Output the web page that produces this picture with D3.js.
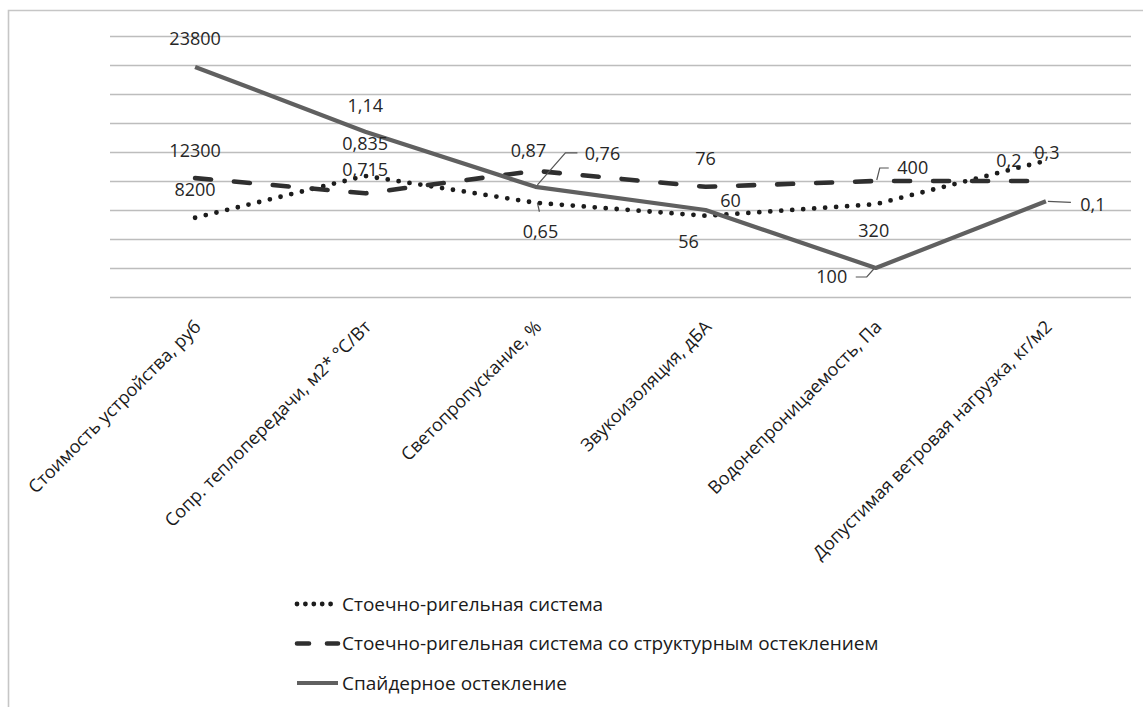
<!DOCTYPE html>
<html lang="ru">
<head>
<meta charset="utf-8">
<title>Сравнение систем остекления</title>
<script src="https://cdn.jsdelivr.net/npm/d3@7"></script>
<style>
  html, body { margin: 0; padding: 0; background: #fff; }
  svg { display: block; font-family: "Open Sans", "DejaVu Sans", sans-serif; }
</style>
</head>
<body>
<svg id="chart" width="1143" height="707"></svg>
<script>
// Criteria compared
const categories = [
  "Стоимость устройства, руб",
  "Сопр. теплопередачи, м2* °С/Вт",
  "Светопропускание, %",
  "Звукоизоляция, дБА",
  "Водонепроницаемость, Па",
  "Допустимая ветровая нагрузка, кг/м2"
];

const seriesNames = [
  "Стоечно-ригельная система",
  "Стоечно-ригельная система со структурным остеклением",
  "Спайдерное остекление"
];

// Measured values per criterion
const mullionTransom   = [8200, 0.835, 0.65, 56, 320, 0.3];
const structuralGlazed = [12300, 0.715, 0.87, 76, 400, 0.2];
const spiderGlazing    = [23800, 1.14, 0.76, 60, 100, 0.1];

// Each criterion is brought to a common score: score = offset + value * factor
const scoreFactor = [1 / 3000, 5, 5, 1 / 20, 1 / 100, 7];
const scoreOffset = [0, 0, 0, 0, 0, 2.6];

// Score axis ticks (gridlines only, no tick text)
const scoreTicks = [0, 1, 2, 3, 4, 5, 6, 7, 8, 9];

const seriesValues = [mullionTransom, structuralGlazed, spiderGlazing];

// ---- layout & styles ----
const svg = d3.select("#chart");
const plot = { left: 110, right: 1131, top: 36, bottom: 297 };

const x = d3.scaleBand().domain(categories).range([plot.left, plot.right]);
const y = d3.scaleLinear().domain([0, 9]).range([plot.bottom, plot.top]);
const cx = c => x(c) + x.bandwidth() / 2;

const styles = [
  { color: "#1c1c1c", width: 4.8, dash: "0 11",  cap: "round", legendDash: "0 8.4" },
  { color: "#2f2f2f", width: 4.6, dash: "16 23", cap: "round", legendDash: "12 18" },
  { color: "#606060", width: 4.2, dash: null,    cap: "butt",  legendDash: null }
];

// Data-label placement relative to the point (text centre), plus optional leader lines
const labelLayout = [
  [ {dx: 0, dy: -28}, {dx: 0, dy: -32}, {dx: 5, dy: 29, leader: [[2, 0], [4, 9]]},
    {dx: -17, dy: 26}, {dx: -2, dy: 26}, {dx: 1, dy: -8, leader: [[-13, -8], [1, -8]]} ],
  [ {dx: 0, dy: -27}, {dx: 0, dy: -24}, {dx: -7, dy: -20},
    {dx: 0, dy: -28}, {dx: 37, dy: -13, leader: [[1, -1], [4, -13], [13, -13]]},
    {dx: -37, dy: -20} ],
  [ {dx: 0, dy: -28}, {dx: 0, dy: -26}, {dx: 67, dy: -33, leader: [[2, -2], [30, -34], [42, -34]]},
    {dx: 25, dy: -9}, {dx: -44, dy: 9, leader: [[-2, 1], [-9, 9], [-20, 9]]},
    {dx: 47, dy: 3, leader: [[2, 0], [25, 1]]} ]
];

const fmt = v => String(v).replace(".", ",");
const score = (v, i) => scoreOffset[i] + v * scoreFactor[i];

// chart frame
svg.append("path")
  .attr("d", "M8.5,707 L8.5,10.5 L1143,10.5")
  .attr("fill", "none").attr("stroke", "#c6c6c6").attr("stroke-width", 1.6);

// gridlines
svg.append("g")
  .attr("transform", `translate(${plot.left},0)`)
  .call(d3.axisLeft(y).tickValues(scoreTicks).tickSize(-(plot.right - plot.left)).tickFormat(""))
  .call(g => g.select(".domain").remove())
  .call(g => g.selectAll(".tick line").attr("stroke", "#bdbdbd").attr("stroke-width", 1.6));

// category axis (labels drawn rotated below)
const xAxis = svg.append("g")
  .attr("transform", `translate(0,${plot.bottom})`)
  .call(d3.axisBottom(x).tickSize(0).tickFormat(""));
xAxis.select(".domain").remove();

svg.append("g").selectAll("text")
  .data(categories)
  .join("text")
  .attr("transform", d => `translate(${cx(d) + 7},${plot.bottom + 31}) rotate(-45)`)
  .attr("text-anchor", "end")
  .attr("font-size", 18)
  .attr("fill", "#1a1a1a")
  .text(d => d);

// lines
const line = d3.line()
  .x((d, i) => cx(categories[i]))
  .y((d, i) => y(score(d, i)));

seriesValues.forEach((vals, s) => {
  const st = styles[s];
  svg.append("path")
    .datum(vals)
    .attr("fill", "none")
    .attr("stroke", st.color)
    .attr("stroke-width", st.width)
    .attr("stroke-linecap", st.cap)
    .attr("stroke-linejoin", "round")
    .attr("stroke-dasharray", st.dash)
    .attr("d", line);
});

// data labels
const labels = svg.append("g");
seriesValues.forEach((vals, s) => {
  vals.forEach((v, i) => {
    const px = cx(categories[i]);
    const py = y(score(v, i));
    const lay = labelLayout[s][i];
    if (lay.leader) {
      labels.append("polyline")
        .attr("points", lay.leader.map(p => [px + p[0], py + p[1]].join(",")).join(" "))
        .attr("fill", "none").attr("stroke", "#555").attr("stroke-width", 1.2);
    }
    labels.append("text")
      .attr("x", px + lay.dx)
      .attr("y", py + lay.dy)
      .attr("dy", "0.35em")
      .attr("text-anchor", "middle")
      .attr("font-size", 18)
      .attr("fill", "#262626")
      .text(fmt(v));
  });
});

// legend
const legend = svg.append("g").attr("transform", "translate(296,604)");
seriesNames.forEach((name, s) => {
  const st = styles[s];
  const row = legend.append("g").attr("transform", `translate(0,${s * 39.5})`);
  row.append("line")
    .attr("x1", 1).attr("x2", 42)
    .attr("stroke", st.color)
    .attr("stroke-width", st.width)
    .attr("stroke-linecap", st.cap)
    .attr("stroke-dasharray", st.legendDash);
  row.append("text")
    .attr("x", 46)
    .attr("dy", "0.35em")
    .attr("font-size", 19)
    .attr("fill", "#1a1a1a")
    .text(name);
});
</script>
</body>
</html>
